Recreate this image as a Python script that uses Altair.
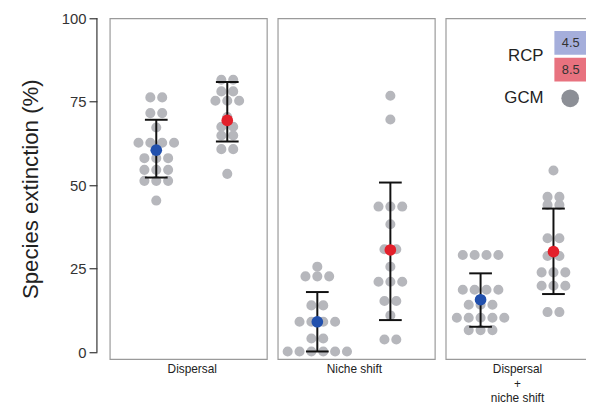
import altair as alt
import pandas as pd

# ---------------- data ----------------
scenarios = ["Dispersal", "Niche shift", "Dispersal + niche shift"]
scenario_titles = [["Dispersal"], ["Niche shift"], ["Dispersal", "+", "niche shift"]]
rcps = ["4.5", "8.5"]

# individual GCM results (species extinction, %)
dispersal_45 = [76.3, 76.3, 71.6, 71.6, 67.3, 62.7, 62.7, 62.7, 62.7, 58.1, 58.1, 58.1,
                54.6, 54.6, 54.6, 51.3, 51.3, 51.3, 45.4]
dispersal_85 = [81.6, 81.6, 78.1, 78.1, 75.3, 75.3, 75.3, 70.4, 67.5, 67.5, 64.9, 64.9,
                60.8, 60.8, 53.4]
niche_45 = [25.6, 22.7, 22.7, 22.7, 14.0, 14.0, 9.1, 9.1, 9.1, 9.1, 4.1, 4.1,
            0.2, 0.2, 0.2, 0.2, 0.2, 0.2]
niche_85 = [76.8, 69.7, 43.6, 43.6, 43.6, 38.3, 30.8, 30.8, 25.6, 21.1, 21.1, 21.1,
            15.3, 15.3, 11.0, 3.8, 3.8]
both_45 = [29.1, 29.1, 29.1, 29.1, 18.7, 18.7, 18.7, 18.7, 14.2, 14.2, 14.2,
           10.3, 10.3, 10.3, 10.3, 10.3, 6.6, 6.6, 6.6]
both_85 = [54.4, 46.5, 46.5, 44.1, 44.1, 34.1, 34.1, 28.8, 28.8, 23.9, 23.9, 23.9,
           19.9, 19.9, 19.9, 12.0, 12.0]

# ensemble mean and error bar limits per scenario
mean_45 = [60.5, 9.1, 15.7]
lo_45 = [52.3, 0.2, 7.6]
hi_45 = [69.6, 18.0, 23.6]
mean_85 = [69.4, 30.6, 30.1]
lo_85 = [63.1, 9.6, 17.4]
hi_85 = [80.9, 50.8, 43.0]

y_ticks = [0, 25, 50, 75, 100]
legend_labels = ["4.5", "8.5"]

# ---------------- layout / style ----------------
PANEL_W, PANEL_H = 159, 345
COL_POS = {"Dispersal": (0.296, 0.748),
           "Niche shift": (0.252, 0.717),
           "Dispersal + niche shift": (0.222, 0.686)}
DOT_STEP = 0.0755
GRAY = "#b6b7bc"
MEAN_COLORS = ["#2150ad", "#e3202b"]
FONT = "Liberation Sans"
LEG_X = 110   # left edge of the legend keys inside the last panel (px)

gcm = {("Dispersal", "4.5"): dispersal_45, ("Dispersal", "8.5"): dispersal_85,
       ("Niche shift", "4.5"): niche_45, ("Niche shift", "8.5"): niche_85,
       ("Dispersal + niche shift", "4.5"): both_45, ("Dispersal + niche shift", "8.5"): both_85}

rows = []
for (s, r), vals in gcm.items():
    centre = COL_POS[s][rcps.index(r)]
    counts = pd.Series(vals).value_counts()
    for v, n in counts.items():
        for k in range(n):
            rows.append({"scenario": s, "rcp": r, "value": v,
                         "x": centre + (k - (n - 1) / 2) * DOT_STEP})
dots = pd.DataFrame(rows)

srows = []
for i, s in enumerate(scenarios):
    srows.append({"scenario": s, "rcp": "4.5", "x": COL_POS[s][0],
                  "mean": mean_45[i], "lo": lo_45[i], "hi": hi_45[i]})
    srows.append({"scenario": s, "rcp": "8.5", "x": COL_POS[s][1],
                  "mean": mean_85[i], "lo": lo_85[i], "hi": hi_85[i]})
summary = pd.DataFrame(srows)

yscale = alt.Scale(domain=[-2.1, 100], nice=False, zero=False)
xscale = alt.Scale(domain=[0, 1], nice=False, zero=False)


def panel(i, s):
    d = dots[dots.scenario == s]
    m = summary[summary.scenario == s]
    mid = (COL_POS[s][0] + COL_POS[s][1]) / 2 * PANEL_W
    xaxis = alt.Axis(labels=False, ticks=False, domain=False, grid=False,
                     title=scenario_titles[i], titleX=mid, titlePadding=5,
                     titleFontSize=12, titleFontWeight="normal", titleColor="#222",
                     titleFont=FONT, titleLineHeight=14.5)
    if i == 0:
        yaxis = alt.Axis(values=y_ticks, offset=13, domain=False, grid=False,
                         tickSize=8, tickColor="#333", tickWidth=1.2,
                         labelFontSize=15, labelColor="#333", labelFont=FONT,
                         labelPadding=3, title="Species extinction (%)",
                         titleFontSize=22.5, titleFontWeight="normal", titleColor="#222",
                         titleFont=FONT, titlePadding=19)
    else:
        yaxis = None

    X = alt.X("x:Q", scale=xscale, axis=xaxis)
    pts = alt.Chart(d).mark_circle(size=104, opacity=1, color=GRAY).encode(
        x=X, y=alt.Y("value:Q", scale=yscale, axis=yaxis))
    bar = alt.Chart(m).mark_rule(color="#111", strokeWidth=2).encode(
        x=X, y=alt.Y("lo:Q", scale=yscale, axis=yaxis), y2="hi:Q")
    cap_lo = alt.Chart(m).mark_tick(orient="horizontal", size=23, thickness=2, color="#111",
                                    opacity=1).encode(
        x=X, y=alt.Y("lo:Q", scale=yscale, axis=yaxis))
    cap_hi = alt.Chart(m).mark_tick(orient="horizontal", size=23, thickness=2, color="#111",
                                    opacity=1).encode(
        x=X, y=alt.Y("hi:Q", scale=yscale, axis=yaxis))
    mean = alt.Chart(m).mark_circle(size=140, opacity=1).encode(
        x=X, y=alt.Y("mean:Q", scale=yscale, axis=yaxis),
        color=alt.Color("rcp:N", scale=alt.Scale(domain=rcps, range=MEAN_COLORS), legend=None))
    layers = [pts, bar, cap_lo, cap_hi, mean]

    if i == 0:
        axis_df = pd.DataFrame({"lo": [min(y_ticks)], "hi": [max(y_ticks)]})
        axline = alt.Chart(axis_df).mark_rule(color="#333", strokeWidth=1.2).encode(
            x=alt.value(-13), y=alt.Y("lo:Q", scale=yscale, axis=yaxis), y2="hi:Q")
        layers.append(axline)

    if i == 2:
        l45 = pd.DataFrame({"label": [legend_labels[0]]})
        l85 = pd.DataFrame({"label": [legend_labels[1]]})
        rect45 = alt.Chart(l45).mark_rect(color="#a5aedb").encode(
            x=alt.value(LEG_X), x2=alt.value(LEG_X + 33), y=alt.value(13), y2=alt.value(37))
        rect85 = alt.Chart(l85).mark_rect(color="#e8727f").encode(
            x=alt.value(LEG_X), x2=alt.value(LEG_X + 33), y=alt.value(40), y2=alt.value(64))
        t45 = alt.Chart(l45).mark_text(fontSize=13, font=FONT, color="#333").encode(
            x=alt.value(LEG_X + 16.5), y=alt.value(25), text="label:N")
        t85 = alt.Chart(l85).mark_text(fontSize=13, font=FONT, color="#333").encode(
            x=alt.value(LEG_X + 16.5), y=alt.value(52), text="label:N")
        rcp_t = alt.Chart(pd.DataFrame({"t": ["RCP"]})).mark_text(
            fontSize=17, font=FONT, color="#222", align="right").encode(
            x=alt.value(LEG_X - 11), y=alt.value(38), text="t:N")
        gcm_t = alt.Chart(pd.DataFrame({"t": ["GCM"]})).mark_text(
            fontSize=17, font=FONT, color="#222", align="right").encode(
            x=alt.value(LEG_X - 11), y=alt.value(81), text="t:N")
        gcm_dot = alt.Chart(pd.DataFrame({"t": ["GCM"]})).mark_circle(
            size=320, opacity=1, color="#8c8f96").encode(
            x=alt.value(LEG_X + 16), y=alt.value(81))
        layers += [rect45, rect85, t45, t85, rcp_t, gcm_t, gcm_dot]

    return alt.layer(*layers).properties(width=PANEL_W, height=PANEL_H)


chart = alt.hconcat(*[panel(i, s) for i, s in enumerate(scenarios)], spacing=9).properties(
    padding={"left": 11, "top": 0, "right": -18, "bottom": -2},
    background="white",
).configure_view(stroke="#9a9a9a", strokeWidth=1.2)

chart.save("out.html", embed_options={"renderer": "svg", "actions": False})
